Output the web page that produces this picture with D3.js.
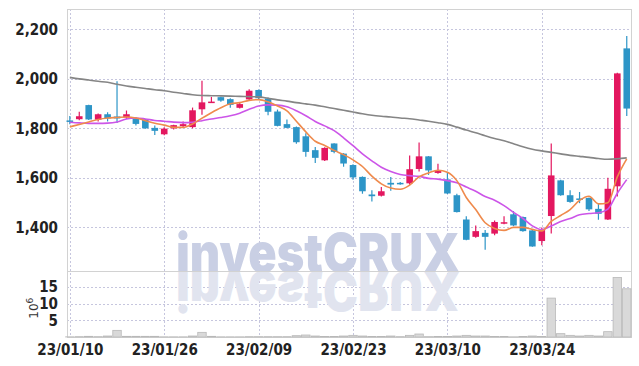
<!DOCTYPE html>
<html>
<head>
<meta charset="utf-8">
<script src="https://cdn.jsdelivr.net/npm/d3@7"></script>
<style>
  body { margin: 0; background: #fff; }
  svg { display: block; }
</style>
</head>
<body>
<svg id="chart"></svg>
<script>
// trading days (yy/mm/dd)
const dates = ['23/01/10','23/01/11','23/01/12','23/01/13','23/01/16','23/01/17','23/01/18','23/01/19','23/01/20','23/01/25',
  '23/01/26','23/01/27','23/01/30','23/01/31','23/02/01','23/02/02','23/02/03','23/02/06','23/02/07','23/02/08',
  '23/02/09','23/02/10','23/02/13','23/02/14','23/02/15','23/02/16','23/02/17','23/02/20','23/02/21','23/02/22',
  '23/02/23','23/02/24','23/02/27','23/02/28','23/03/02','23/03/03','23/03/06','23/03/07','23/03/08','23/03/09',
  '23/03/10','23/03/13','23/03/14','23/03/15','23/03/16','23/03/17','23/03/20','23/03/21','23/03/22','23/03/23',
  '23/03/24','23/03/27','23/03/28','23/03/29','23/03/30','23/03/31','23/04/03','23/04/04','23/04/05','23/04/06'];

const open = [1832,1837,1894,1835,1857,1848,1844,1840,1836,1802,1776,1800,1809,1805,1877,1906,1926,1918,1883,1917,
  1955,1921,1868,1817,1805,1768,1712,1671,1739,1698,1652,1604,1533,1528,1580,1580,1578,1636,1687,1620,
  1594,1530,1432,1362,1378,1375,1415,1453,1442,1388,1345,1446,1590,1530,1517,1519,1475,1432,1566,2123];
const high = [1850,1867,1895,1860,1865,1990,1872,1846,1838,1812,1805,1815,1828,1884,1992,1927,1928,1922,1905,1958,
  1957,1925,1876,1836,1808,1780,1725,1724,1740,1700,1655,1606,1550,1563,1604,1583,1690,1743,1688,1657,
  1624,1536,1445,1408,1390,1428,1445,1466,1444,1390,1400,1739,1593,1550,1543,1521,1496,1601,2025,2173];
const low = [1817,1833,1834,1828,1828,1822,1838,1812,1798,1773,1772,1795,1806,1800,1855,1905,1907,1883,1880,1915,
  1918,1853,1808,1800,1738,1685,1660,1668,1700,1645,1592,1536,1505,1525,1548,1572,1572,1626,1612,1617,
  1535,1460,1348,1358,1310,1368,1413,1405,1383,1322,1328,1375,1528,1500,1498,1466,1431,1430,1525,1850];
const close = [1828,1849,1836,1857,1840,1840,1857,1818,1800,1790,1799,1813,1817,1873,1905,1908,1912,1895,1898,1952,
  1922,1867,1810,1802,1744,1705,1681,1721,1705,1658,1602,1546,1526,1546,1573,1577,1635,1687,1630,1628,
  1537,1462,1350,1385,1362,1422,1421,1408,1385,1323,1392,1610,1530,1503,1512,1473,1455,1556,2022,1880];

// volume in millions of shares
const volume = [0.05,0.1,0.2,0.1,0.3,2.0,0.2,0.2,0.2,0.2,0.05,0.05,0.05,0.3,1.4,0.2,0.05,0.05,0.05,0.1,
  0.1,0.1,0.1,0.1,0.4,0.6,0.3,0.15,0.15,0.3,0.5,0.3,0.15,0.15,0.3,0.1,0.5,0.9,0.1,0.15,
  0.15,0.3,0.5,0.3,0.3,0.15,0.15,0.05,0.15,0.3,0.15,11.7,1.0,0.5,0.3,0.5,0.3,1.6,17.9,14.5];

// moving averages
const ma5 = [1806,1816,1826,1836,1842,1844,1846,1842,1831,1821,1813,1804,1804,1818,1841,1863,1883,1899,1904,1913,
  1916,1907,1890,1871,1829,1786,1748,1731,1711,1694,1673,1646,1607,1576,1559,1554,1571,1604,1620,1631,
  1623,1589,1521,1472,1419,1396,1388,1400,1400,1392,1386,1424,1448,1472,1509,1526,1495,1500,1604,1677];
const ma10 = [1825,1822,1820,1820,1821,1826,1838,1842,1838,1832,1829,1825,1823,1825,1831,1838,1844,1851,1861,1877,
  1890,1895,1894,1887,1871,1851,1828,1810,1791,1762,1730,1697,1669,1643,1626,1614,1609,1606,1598,1595,
  1589,1580,1563,1546,1525,1510,1488,1461,1436,1406,1391,1406,1424,1436,1451,1456,1459,1474,1538,1593];
const ma60 = [2006,2000,1995,1990,1986,1978,1971,1966,1961,1956,1952,1946,1941,1936,1933,1932,1931,1930,1929,1928,
  1927,1921,1915,1910,1904,1899,1894,1887,1880,1873,1866,1859,1853,1849,1846,1842,1839,1834,1829,1823,
  1816,1805,1793,1782,1770,1759,1750,1738,1726,1716,1709,1703,1697,1691,1687,1683,1678,1675,1677,1681];

const priceTicks = [1400,1600,1800,2000,2200];
const volTicks = [5,10,15];
const dateTicks = [0,10,20,30,40,50];

const W = 639, H = 366;
const pLeft = 67, pRight = 631, pTop = 9, pMid = 271.5, pBottom = 337;

const svg = d3.select('#chart').attr('width',W).attr('height',H);

const x = d3.scaleLinear().domain([-0.3,59.45]).range([pLeft,pRight]);
const y = d3.scaleLinear().domain([1222,2282]).range([pMid,pTop]);
const yv = d3.scaleLinear().domain([0,19.7]).range([pBottom,pMid]);

const labelFont = '"Liberation Sans Narrow","DejaVu Sans Condensed",sans-serif';
const gridCol = '#c6c6de';

// grid
const grid = svg.append('g');
grid.selectAll('.hg').data(priceTicks).enter().append('line')
  .attr('x1',pLeft).attr('x2',pRight)
  .attr('y1',d=>Math.round(y(d))+0.5).attr('y2',d=>Math.round(y(d))+0.5)
  .attr('stroke',gridCol).attr('stroke-dasharray','2,2');
grid.selectAll('.hv').data(volTicks).enter().append('line')
  .attr('x1',pLeft).attr('x2',pRight)
  .attr('y1',d=>Math.round(yv(d))+0.5).attr('y2',d=>Math.round(yv(d))+0.5)
  .attr('stroke',gridCol).attr('stroke-dasharray','2,2');
grid.selectAll('.vg').data(dateTicks).enter().append('line')
  .attr('x1',d=>Math.round(x(d))+0.5).attr('x2',d=>Math.round(x(d))+0.5)
  .attr('y1',pTop).attr('y2',pBottom)
  .attr('stroke',gridCol).attr('stroke-dasharray','2,2');

// watermark + reflection
const wmFont = 'Inter,Lato,"Open Sans",sans-serif';
const wm = svg.append('g');
wm.append('text')
  .attr('x',318).attr('y',pMid)
  .attr('text-anchor','middle')
  .attr('font-family',wmFont)
  .attr('font-weight',900).attr('font-size',54)
  .attr('textLength',284).attr('lengthAdjust','spacingAndGlyphs')
  .attr('fill','#c9cfe4')
  .text('investCRUX');
wm.append('text')
  .attr('x',318).attr('y',pMid)
  .attr('transform',`translate(0,${2*pMid}) scale(1,-1)`)
  .attr('text-anchor','middle')
  .attr('font-family',wmFont)
  .attr('font-weight',900).attr('font-size',54)
  .attr('textLength',284).attr('lengthAdjust','spacingAndGlyphs')
  .attr('fill','#e1e4ef')
  .text('investCRUX');

// frame
svg.append('rect').attr('x',pLeft+0.5).attr('y',pTop+0.5)
  .attr('width',pRight-pLeft).attr('height',pBottom-pTop)
  .attr('fill','none').attr('stroke','#d2d2d2');
svg.append('line').attr('x1',pLeft).attr('x2',pRight).attr('y1',pMid).attr('y2',pMid).attr('stroke','#d2d2d2');

// volume bars
const step = x(1)-x(0);
svg.append('g').selectAll('rect').data(volume).enter().append('rect')
  .attr('x',(d,i)=>x(i)-step/2+0.5)
  .attr('width',step-1)
  .attr('y',d=>yv(d))
  .attr('height',d=>pBottom-yv(d))
  .attr('fill','#d9d9d9').attr('stroke','#b8b8b8').attr('stroke-width',0.8);

// candles
const up = '#e3175f', down = '#2d95c7';
const candles = svg.append('g').selectAll('g').data(close).enter().append('g');
candles.append('line')
  .attr('x1',(d,i)=>x(i)).attr('x2',(d,i)=>x(i))
  .attr('y1',(d,i)=>y(high[i])).attr('y2',(d,i)=>y(low[i]))
  .attr('stroke',(d,i)=>d>=open[i]?up:down).attr('stroke-width',1.2);
candles.append('rect')
  .attr('x',(d,i)=>x(i)-3.3).attr('width',6.6)
  .attr('y',(d,i)=>y(Math.max(d,open[i])))
  .attr('height',(d,i)=>Math.max(1.5,Math.abs(y(d)-y(open[i]))))
  .attr('fill',(d,i)=>d>=open[i]?up:down);

// moving averages
const line = d3.line().x((d,i)=>x(i)).y(d=>y(d)).curve(d3.curveMonotoneX);
[[ma60,'#858585'],[ma10,'#cc55e8'],[ma5,'#ef8a4c']].forEach(([s,c])=>{
  svg.append('path').datum(s).attr('d',line)
    .attr('fill','none').attr('stroke',c).attr('stroke-width',1.6);
});

// axes
const yAxis = svg.append('g').attr('transform',`translate(${pLeft-6},0)`)
  .call(d3.axisLeft(y).tickValues(priceTicks).tickFormat(d3.format(',')).tickSize(0));
const vAxis = svg.append('g').attr('transform',`translate(${pLeft-6},0)`)
  .call(d3.axisLeft(yv).tickValues(volTicks).tickSize(0));
const xAxis = svg.append('g').attr('transform',`translate(0,${pBottom+4})`)
  .call(d3.axisBottom(x).tickValues(dateTicks).tickFormat(i=>dates[i]).tickSize(0));
[yAxis,vAxis,xAxis].forEach(a=>{
  a.select('.domain').remove();
  a.selectAll('text').attr('font-family',labelFont).attr('font-weight','bold')
    .attr('font-size',15).attr('fill','#222');
});

svg.append('text')
  .attr('transform',`translate(38,${(pMid+pBottom)/2+4}) rotate(-90)`)
  .attr('text-anchor','middle')
  .attr('font-family','"DejaVu Sans",sans-serif').attr('font-size',12).attr('fill','#333')
  .html('10<tspan dy="-5" font-size="9">6</tspan>');
</script>
</body>
</html>
